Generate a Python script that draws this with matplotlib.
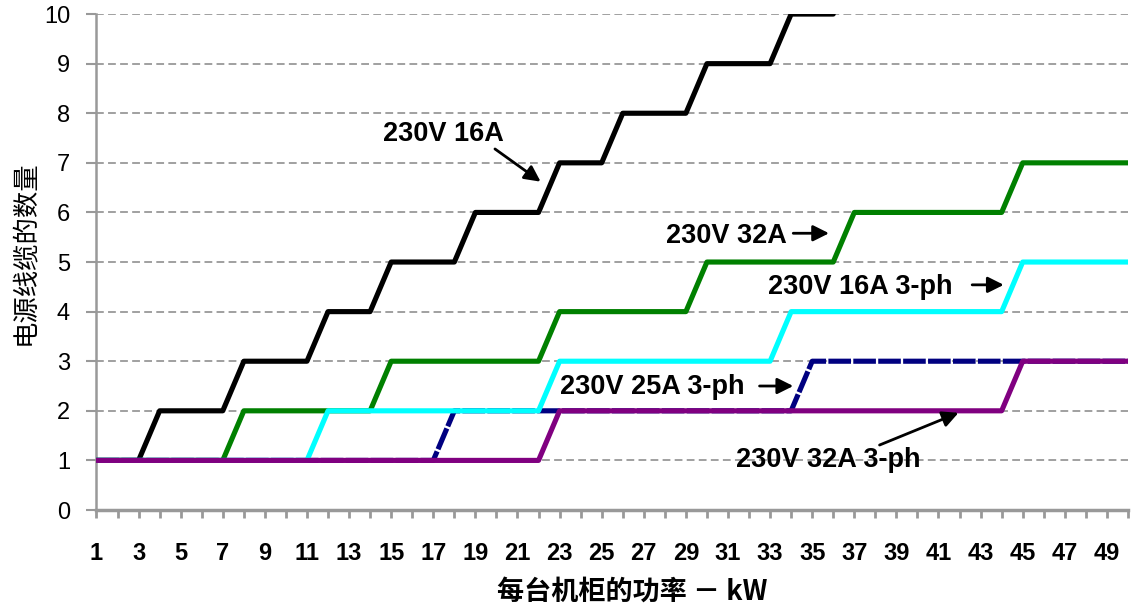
import matplotlib
matplotlib.use("Agg")
import matplotlib.pyplot as plt
import numpy as np

# ---- data ----
power_kw = list(range(1, 51))
tick_labels = [str(v) if v % 2 == 1 else "" for v in power_kw]

s_230v_16a = [1, 1, 1, 2, 2, 2, 2, 3, 3, 3, 3, 4, 4, 4, 5, 5, 5, 5, 6, 6,
              6, 6, 7, 7, 7, 8, 8, 8, 8, 9, 9, 9, 9, 10, 10, 10]
s_230v_32a = [1, 1, 1, 1, 1, 1, 1, 2, 2, 2, 2, 2, 2, 2, 3, 3, 3, 3, 3, 3,
              3, 3, 4, 4, 4, 4, 4, 4, 4, 5, 5, 5, 5, 5, 5, 5, 6, 6, 6, 6,
              6, 6, 6, 6, 7, 7, 7, 7, 7, 7]
s_230v_16a_3ph = [1, 1, 1, 1, 1, 1, 1, 1, 1, 1, 1, 2, 2, 2, 2, 2, 2, 2, 2, 2,
                  2, 2, 3, 3, 3, 3, 3, 3, 3, 3, 3, 3, 3, 4, 4, 4, 4, 4, 4, 4,
                  4, 4, 4, 4, 5, 5, 5, 5, 5, 5]
s_230v_25a_3ph = [1, 1, 1, 1, 1, 1, 1, 1, 1, 1, 1, 1, 1, 1, 1, 1, 1, 2, 2, 2,
                  2, 2, 2, 2, 2, 2, 2, 2, 2, 2, 2, 2, 2, 2, 3, 3, 3, 3, 3, 3,
                  3, 3, 3, 3, 3, 3, 3, 3, 3, 3]
s_230v_32a_3ph = [1, 1, 1, 1, 1, 1, 1, 1, 1, 1, 1, 1, 1, 1, 1, 1, 1, 1, 1, 1,
                  1, 1, 2, 2, 2, 2, 2, 2, 2, 2, 2, 2, 2, 2, 2, 2, 2, 2, 2, 2,
                  2, 2, 2, 2, 3, 3, 3, 3, 3, 3]

labels = ["230V 16A", "230V 32A", "230V 16A 3-ph", "230V 25A 3-ph", "230V 32A 3-ph"]
y_ticks = list(range(0, 11))

# ---- figure ----
plt.rcParams['font.family'] = ['Liberation Sans', 'DejaVu Sans']
fig = plt.figure(figsize=(11.39, 6.11), dpi=100)
ax = fig.add_axes([0.0847, 0.1653, 0.9056, 0.8117])

lw = 3.7
kw = dict(solid_capstyle='round', solid_joinstyle='round')
ax.plot(power_kw[:len(s_230v_16a)], s_230v_16a, color='#000000', lw=lw, zorder=3, **kw)
ax.plot(power_kw, s_230v_32a, color='#008000', lw=lw, zorder=4, **kw)
ax.plot(power_kw, s_230v_25a_3ph, color='#000080', lw=lw, zorder=5,
        linestyle=(0, (4.4, 0.45)), dash_capstyle='butt')
ax.plot(power_kw, s_230v_16a_3ph, color='#00FFFF', lw=lw, zorder=6, **kw)
ax.plot(power_kw, s_230v_32a_3ph, color='#800080', lw=lw, zorder=7, **kw)

ax.set_xlim(1, 50)
ax.set_ylim(0, 10)
ax.set_xticks(power_kw)
ax.set_xticklabels(tick_labels, fontsize=17, fontweight='bold')
ax.set_yticks(y_ticks)
ax.set_yticklabels([str(v) for v in y_ticks], fontsize=17)
ax.tick_params(axis='x', direction='out', length=6, width=2, color='#999999', pad=17)
ax.tick_params(axis='y', direction='out', length=7, width=1.5, color='#999999', pad=12)

for side in ['top', 'right']:
    ax.spines[side].set_visible(False)
ax.spines['left'].set_color('#999999')
ax.spines['left'].set_linewidth(1.8)
ax.spines['bottom'].set_color('#999999')
ax.spines['bottom'].set_linewidth(2.5)

for yv in y_ticks[1:]:
    ax.axhline(yv, color='#a0a0a0', lw=1.4, linestyle=(0, (4, 2.2)), zorder=1)

cjk = ['Noto Sans CJK SC', 'DejaVu Sans']
fig.text(632 / 1139, 1 - 592 / 611, '每台机柜的功率 － kW', fontsize=19.5, family=cjk,
         fontweight='bold', ha='center', va='center')
fig.text(25 / 1139, 1 - 253 / 611, '电源线缆的数量', fontsize=19, family=cjk,
         fontweight='normal', ha='center', va='center', rotation=90)

ann_font = dict(fontsize=19.5, fontweight='bold', ha='left', va='center')
ax.text(14.6, 7.58, labels[0], **ann_font)
ax.text(28.05, 5.52, labels[1], **ann_font)
ax.text(32.9, 4.49, labels[2], **ann_font)
ax.text(23.02, 2.49, labels[3], **ann_font)
ax.text(31.4, 1.01, labels[4], **ann_font)

ap = dict(arrowstyle='-|>', lw=2, color='black', mutation_scale=24, shrinkA=0, shrinkB=0)
ax.annotate('', xy=(22.1, 6.62), xytext=(19.93, 7.28), arrowprops=ap, zorder=8)
ax.annotate('', xy=(35.8, 5.58), xytext=(34.1, 5.58), arrowprops=ap, zorder=8)
ax.annotate('', xy=(44.1, 4.54), xytext=(42.6, 4.54), arrowprops=ap, zorder=8)
ax.annotate('', xy=(34.1, 2.5), xytext=(32.5, 2.5), arrowprops=ap, zorder=8)
ax.annotate('', xy=(41.95, 1.96), xytext=(38.2, 1.31), arrowprops=ap, zorder=8)

fig.savefig('out.png', dpi=100)
